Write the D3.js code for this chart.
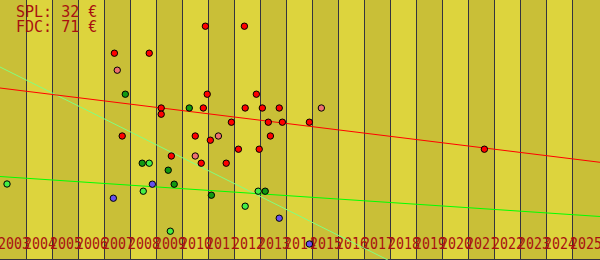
<!DOCTYPE html>
<html>
<head>
<meta charset="utf-8">
<script src="https://cdn.jsdelivr.net/npm/d3@7"></script>
<style>
  html, body { margin: 0; padding: 0; background: #c9bf37; }
  svg { display: block; }
</style>
</head>
<body>
<svg id="chart" width="600" height="260"></svg>
<script>
// tick labels (one band per year)
const years = ["2003", "2004", "2005", "2006", "2007", "2008", "2009", "2010", "2011", "2012",
  "2013", "2014", "2015", "2016", "2017", "2018", "2019", "2020", "2021", "2022", "2023", "2024", "2025"]

const titleLines = ["SPL: 32 €", "FDC: 71 €"]

// [year, price]
const redPts = [
  [2010.90, 116.9], [2012.40, 116.9], [2007.40, 103.4], [2008.74, 103.4],
  [2010.97, 82.9], [2012.86, 82.9], [2009.20, 76.0], [2009.20, 72.9],
  [2010.82, 76.0], [2012.43, 76.0], [2013.09, 76.0], [2013.74, 76.0],
  [2011.90, 68.9], [2013.32, 68.9], [2013.86, 68.9], [2014.90, 68.9],
  [2007.70, 62.0], [2010.51, 62.0], [2011.09, 59.9], [2013.40, 62.0],
  [2012.17, 55.4], [2012.97, 55.4], [2009.59, 52.0], [2010.74, 48.4],
  [2011.70, 48.4], [2021.63, 55.4],
]
const salmonPts = [[2007.51, 94.9], [2015.36, 76.0], [2011.40, 62.0], [2010.51, 52.0]]
const darkGreenPts = [
  [2007.82, 82.9], [2010.28, 76.0], [2008.47, 48.4], [2009.47, 44.9],
  [2009.70, 37.9], [2013.20, 34.4], [2011.13, 32.4],
]
const lightGreenPts = [
  [2003.27, 38.0], [2008.74, 48.4], [2008.51, 34.4], [2012.93, 34.4],
  [2012.43, 26.9], [2009.55, 14.4],
]
const bluePts = [[2008.86, 37.9], [2007.36, 30.9], [2013.74, 20.9], [2014.90, 8.0]]

// trend lines, two ends each
const redTrend = [[2003, 86.0], [2026.08, 48.85]]
const greenTrend = [[2003, 41.75], [2026.08, 21.75]]
const paleTrend = [[2003, 96.5], [2017.92, 0]]

const width = 600
const height = 260
const bandW = 26
const labelW = 32

const svg = d3.select("#chart")

const x = d3.scaleLinear().domain([2003, 2003 + years.length]).range([0, bandW * years.length])
const y = d3.scaleLinear().domain([0, 130]).range([height, 0])

// alternating year bands
svg.append("g")
  .selectAll("rect")
  .data(years)
  .join("rect")
  .attr("x", (d) => x(+d))
  .attr("y", 0)
  .attr("width", (d, i) => (i === years.length - 1 ? width - x(+d) : bandW))
  .attr("height", height)
  .attr("fill", (d, i) => (i % 2 === 0 ? "#c9bf37" : "#ddd43d"))

// band separators
svg.append("g")
  .selectAll("line")
  .data(years.slice(1))
  .join("line")
  .attr("x1", (d) => Math.round(x(+d)) + 0.5)
  .attr("x2", (d) => Math.round(x(+d)) + 0.5)
  .attr("y1", 0)
  .attr("y2", height)
  .attr("stroke", "#34343f")
  .attr("stroke-width", 1)

svg.append("line")
  .attr("x1", 0).attr("x2", width)
  .attr("y1", height - 0.5).attr("y2", height - 0.5)
  .attr("stroke", "#34343f")

// year labels: narrow digits, the last one runs under the next label like the original
svg.append("g")
  .selectAll("text")
  .data(years)
  .join("text")
  .attr("x", (d) => x(+d) - 2)
  .attr("y", 249)
  .attr("font-family", "DejaVu Sans Mono, monospace")
  .attr("font-size", 15)
  .attr("textLength", labelW)
  .attr("lengthAdjust", "spacingAndGlyphs")
  .attr("fill", "#a81010")
  .text((d) => d)

// trend lines
const line = d3.line().x((d) => x(d[0])).y((d) => y(d[1]))
const trends = [
  {data: paleTrend, color: "#80ff80"},
  {data: greenTrend, color: "#00ff00"},
  {data: redTrend, color: "#ff0000"},
]
svg.append("g")
  .selectAll("path")
  .data(trends)
  .join("path")
  .attr("d", (d) => line(d.data))
  .attr("fill", "none")
  .attr("stroke", (d) => d.color)
  .attr("stroke-width", 1)

// points
const groups = [
  {data: lightGreenPts, color: "#44ee44"},
  {data: darkGreenPts, color: "#119911"},
  {data: bluePts, color: "#6650ee"},
  {data: salmonPts, color: "#ee7070"},
  {data: redPts, color: "#ff0000"},
]
groups.forEach((g) => {
  svg.append("g")
    .selectAll("circle")
    .data(g.data)
    .join("circle")
    .attr("cx", (d) => x(d[0]))
    .attr("cy", (d) => y(d[1]))
    .attr("r", 3.2)
    .attr("fill", g.color)
    .attr("stroke", "#000")
    .attr("stroke-width", 1)
})

// title
svg.append("g")
  .selectAll("text")
  .data(titleLines)
  .join("text")
  .attr("x", 16)
  .attr("y", (d, i) => 17 + i * 15)
  .attr("font-family", "DejaVu Sans Mono, monospace")
  .attr("font-size", 15)
  .attr("fill", "#a81010")
  .text((d) => d)
</script>
</body>
</html>
